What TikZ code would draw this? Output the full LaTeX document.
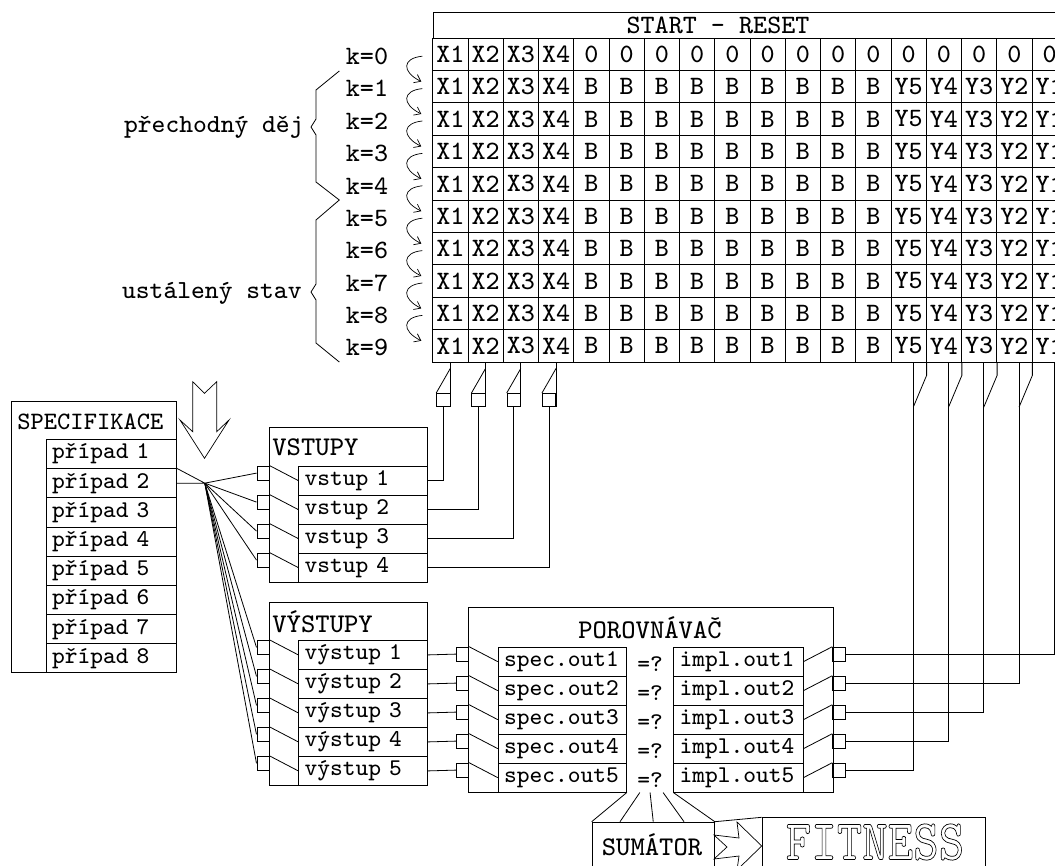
\documentclass[tikz,border=0pt]{standalone}
\usepackage{fontspec}
\setmonofont{lmmono8-regular.otf}
\usetikzlibrary{calc,arrows.meta}

\newcommand\cellfont{\fontsize{26.5}{28}\selectfont\ttfamily}
\newcommand\capfont{\fontsize{27}{29}\selectfont\ttfamily}
\newcommand\lowfont{\fontsize{24}{26}\selectfont\ttfamily}
\newcommand\bracefont{\fontsize{26}{28}\selectfont\ttfamily}
\newcommand\fitfont{\fontsize{48}{52}\selectfont\ttfamily}

\begin{document}
\begin{tikzpicture}[
        x=1pt, y=-1pt, line width=0.8pt,
        cell/.style={draw, minimum width=35.25pt, minimum height=32.4pt, inner sep=0pt, font=\cellfont},
        rowitem/.style={draw, anchor=north west, minimum height=29pt, inner sep=0pt, inner xsep=6pt, text width=#1, align=left, font=\lowfont},
        box/.style={draw, anchor=north west, inner sep=0pt},
        plug/.style={draw, anchor=north west, minimum width=12.5pt, minimum height=14pt, inner sep=0pt},
        boxtitle/.style={anchor=west, inner sep=0pt, font=\capfont},
        steparrow/.style={-{Straight Barb[length=6pt, width=9pt]}, line width=0.7pt},
        hollowarrow/.style={line width=0.7pt, line join=miter}
    ]
    \useasboundingbox (0,0) rectangle (1055,865);

    % === table START - RESET ===
    \node[draw, anchor=north west, minimum width=634.5pt, minimum height=26pt, inner sep=0pt] (reset) at (432.7,12) {};
    \node[font=\cellfont] (resettext) at (718,25) {START – RESET};
    \foreach \nr in {0,...,9}
      \foreach \nc in {1,...,18}{
        \ifnum\nc<5 \def\txt{X\nc}\else
          \ifnum\nr=0 \def\txt{0}\else
            \ifnum\nc<14 \def\txt{B}\else
              \pgfmathtruncatemacro\yy{19-\nc}\edef\txt{Y\yy}%
            \fi
          \fi
        \fi
        \node[cell] (c\nr-\nc) at ({432.7+(\nc-0.5)*35.25},{38+(\nr+0.5)*32.4}) {\txt};
      }

    % === steps k ===
    \foreach \nr in {0,...,9}
      \node[font=\cellfont] (k\nr) at (367,{38+(\nr+0.5)*32.4+2}) {k=\nr};
    \foreach \nr [evaluate=\nr as \nn using int(\nr+1)] in {0,...,8}
      \draw[steparrow] ($(c\nr-1.west)+(-10,2)$) .. controls +(-20,2) and +(-20,-10) .. ($(c\nn-1.west)+(-11,-5)$);
    \draw (339.3,71) -- (316,90) -- (316,119) -- (311,127) -- (316,135) -- (316,182) -- (339.3,200)
          -- (316,220) -- (316,284) -- (311,292) -- (316,300) -- (316,343) -- (339.3,362);
    \node[font=\bracefont, anchor=east, inner sep=0pt] (transient) at (304,127) {přechodný děj};
    \node[font=\bracefont, anchor=east, inner sep=0pt] (steady) at (302,293) {ustálený stav};

    % === specifikace ===
    \draw[hollowarrow] (192.7,381.7) -- (192.7,431.7) -- (180,420) -- (204.5,458.3) -- (229,420)
          -- (216.7,431.7) -- (216.7,381.7) -- (204.5,393.3) -- cycle;
    \node[box, minimum width=164.7pt, minimum height=271.6pt] (specbox) at (11,400.7) {};
    \node[boxtitle, font=\fontsize{25}{27}\selectfont\ttfamily] (spectitle) at (17,421.7) {SPECIFIKACE};
    \foreach \idx in {1,...,8}
      \node[rowitem=118pt, minimum height=29.17pt] (case\idx) at (45.7,{439+(\idx-1)*29.17}) {případ \idx};
    \coordinate (hub) at ($(case2.east)+(28.3,0)$);
    \draw (case2.north east) -- (hub) -- (case2.east);

    % === vstupy ===
    \node[box, minimum width=158.3pt, minimum height=155pt] (inbox) at (269,426.7) {};
    \node[boxtitle] (intitle) at (272,447) {VSTUPY};
    \foreach \idx in {1,...,4}{
      \node[rowitem=117pt] (in\idx) at (298.3,{465.7+(\idx-1)*29}) {vstup \idx};
      \node[plug] (inpin\idx) at (256.5,{465.7+(\idx-1)*29}) {};
      \draw (inpin\idx.north east) -- (in\idx.west);
      \draw (hub) -- (inpin\idx.west);
      \node[plug, anchor=south east, minimum width=13.3pt, minimum height=13.3pt] (xpin\idx) at ($(c9-\idx.south)+(0,44.7)$) {};
      \draw (c9-\idx.south) -- (xpin\idx.south east);
      \draw (xpin\idx.north west) -- ($(c9-\idx.south)+(0,6)$);
      \draw (in\idx.east) -| (xpin\idx.south);
    }

    % === vystupy ===
    \node[box, minimum width=158.3pt, minimum height=183.3pt] (outbox) at (269,601.7) {};
    \node[boxtitle] (outtitle) at (272,621.7) {VÝSTUPY};
    \foreach \idx in {1,...,5}{
      \node[rowitem=117pt] (out\idx) at (298.3,{640+(\idx-1)*29}) {výstup \idx};
      \node[plug] (outpin\idx) at (256.5,{640+(\idx-1)*29}) {};
      \draw (outpin\idx.north east) -- (out\idx.west);
      \draw (hub) -- (outpin\idx.west);
    }

    % === porovnavac ===
    \node[anchor=north west, minimum width=364pt, minimum height=184.4pt, inner sep=0pt] (cmpbox) at (468.3,607.3) {};
    \node[font=\capfont] (cmptitle) at (650,628) {POROVNÁVAČ};
    \foreach \idx in {1,...,5}{
      \node[rowitem=116.3pt] (spec\idx) at (497.7,{646.7+(\idx-1)*29}) {spec.out\idx};
      \node[rowitem=117.4pt] (impl\idx) at (673.3,{646.7+(\idx-1)*29}) {impl.out\idx};
      \node[font=\lowfont] (eq\idx) at (650,{646.7+(\idx-0.5)*29+3}) {=?};
      \node[plug] (specpin\idx) at (455.8,{646.7+(\idx-1)*29}) {};
      \node[plug] (implpin\idx) at (832.3,{646.7+(\idx-1)*29}) {};
      \draw (specpin\idx.north east) -- (spec\idx.west);
      \draw (implpin\idx.north west) -- (impl\idx.east);
      \draw (out\idx.east) -- (specpin\idx.west);
      \pgfmathtruncatemacro\col{19-\idx}
      \coordinate (ytop\idx) at ($(c9-\col.south east)+(-13.3,0)$);
      \draw (c9-\col.south east) -- ++(0,13) -- ++(-13.3,31.7);
      \draw (implpin\idx.east) -| (ytop\idx);
    }
    \draw (spec5.south east) -- (cmpbox.south west) |- (cmpbox.north east) -- (cmpbox.south east) -- (impl5.south west);

    % === sumator, fitness ===
    \node[box, minimum width=122.3pt, minimum height=70pt] (sumbox) at (591.7,821.7) {};
    \node[font=\capfont] (sumtext) at (652,845) {SUMÁTOR};
    \foreach \a/\b in {0/0, 0.28/0.23, 0.5/0.5, 0.78/0.75, 1/1}
      \draw ($(spec5.south east)!\a!(impl5.south west)$) -- ($(sumbox.north west)!\b!(sumbox.north east)$);
    \node[box, minimum width=223.3pt, minimum height=70pt] (fitbox) at (761.7,817.3) {};
    \draw (sumbox.north east) -- (fitbox.north west);
    \draw[hollowarrow] (714,835) -- (739,838) -- (737,822) -- (761.7,846) -- (737,870) -- (739,856) -- (714,859)
          -- (727,847) -- cycle;
    \node[font=\fitfont] (fittext) at (875,842) {\scalebox{1}[1.2]{\special{pdf:literal direct 1 Tr 0.6 w}FITNESS\special{pdf:literal direct 0 Tr}}};
\end{tikzpicture}
\end{document}
